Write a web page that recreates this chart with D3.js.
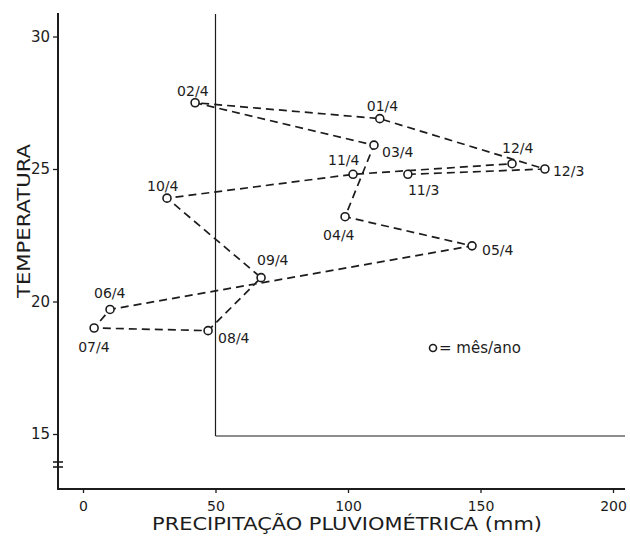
<!DOCTYPE html>
<html>
<head>
<meta charset="utf-8">
<script src="https://cdn.jsdelivr.net/npm/d3@7"></script>
<style>
  body { margin: 0; background: #fff; }
  text { font-family: "DejaVu Sans", sans-serif; fill: #1c1c1c; }
</style>
</head>
<body>
<svg id="chart" width="630" height="538"></svg>
<script>
"use strict";

// mês/ano, na ordem da sequência
var meses = ["11/3", "12/3", "01/4", "02/4", "03/4", "04/4", "05/4",
             "06/4", "07/4", "08/4", "09/4", "10/4", "11/4", "12/4"];
// precipitação (mm)
var precipitacao = [122.6, 174.3, 112, 42.3, 109.8, 98.9, 146.8,
                    10.2, 4.2, 47.2, 67.2, 31.7, 101.9, 161.9];
// temperatura (°C)
var temperatura = [24.8, 25.0, 26.9, 27.5, 25.9, 23.2, 22.1,
                   19.7, 19.0, 18.9, 20.9, 23.9, 24.8, 25.2];

var xTicks = [0, 50, 100, 150, 200];
var yTicks = [15, 20, 25, 30];

// deslocamento dos rótulos (dx, dy) a partir do círculo
var rotuloPos = {
  "11/3": [0, 21], "12/3": [8, 7], "01/4": [-13, -8], "02/4": [-18, -7],
  "03/4": [8, 12], "04/4": [-22, 23], "05/4": [10, 9], "06/4": [-16, -11],
  "07/4": [-16, 24], "08/4": [10, 12], "09/4": [-4, -13], "10/4": [-20, -7],
  "11/4": [-25, -9], "12/4": [-10, -11]
};

var ink = "#1c1c1c";
var svg = d3.select("#chart");

var x = d3.scaleLinear().domain([0, 200]).range([83, 613]);
var y = d3.scaleLinear().domain([15, 30]).range([434, 36.5]);

var axisX = 58;     // posição do eixo vertical
var axisY = 489;    // posição do eixo horizontal

// eixo vertical (com quebra)
svg.append("line")
    .attr("x1", axisX).attr("x2", axisX)
    .attr("y1", 13).attr("y2", axisY)
    .attr("stroke", ink).attr("stroke-width", 2);

// marca de quebra
[462, 467].forEach(function(yy) {
  svg.append("line")
      .attr("x1", axisX - 5).attr("x2", axisX + 5)
      .attr("y1", yy).attr("y2", yy)
      .attr("stroke", ink).attr("stroke-width", 1.6);
});

// eixo horizontal
svg.append("line")
    .attr("x1", axisX - 1).attr("x2", 625)
    .attr("y1", axisY).attr("y2", axisY)
    .attr("stroke", ink).attr("stroke-width", 2.2);

// ticks eixo Y
var gy = svg.append("g")
    .attr("transform", "translate(" + axisX + ",0)")
    .call(d3.axisLeft(y).tickValues(yTicks).tickSize(5).tickPadding(3));
gy.select(".domain").remove();
gy.selectAll("line").attr("stroke", ink).attr("stroke-width", 1.3);
gy.selectAll("text").attr("font-size", 15).style("fill", ink);

// ticks eixo X
var gx = svg.append("g")
    .attr("transform", "translate(0," + axisY + ")")
    .call(d3.axisBottom(x).tickValues(xTicks).tickSize(4).tickPadding(8));
gx.select(".domain").remove();
gx.selectAll("line").attr("stroke", ink).attr("stroke-width", 1.3);
gx.selectAll("text").attr("font-size", 14).style("fill", ink);

// linhas de referência: 50 mm e 15 °C
svg.append("line")
    .attr("x1", x(50)).attr("x2", x(50))
    .attr("y1", 14).attr("y2", y(15) + 2)
    .attr("stroke", ink).attr("stroke-width", 1.2);
svg.append("line")
    .attr("x1", x(50)).attr("x2", 625)
    .attr("y1", y(15) + 2).attr("y2", y(15) + 2)
    .attr("stroke", ink).attr("stroke-width", 1.2);

// títulos dos eixos
svg.append("text")
    .attr("x", 152).attr("y", 530)
    .attr("font-size", 18)
    .attr("textLength", 390)
    .attr("lengthAdjust", "spacingAndGlyphs")
    .text("PRECIPITAÇÃO PLUVIOMÉTRICA (mm)");

svg.append("text")
    .attr("transform", "translate(30,298) rotate(-90)")
    .attr("font-size", 18)
    .attr("textLength", 154)
    .attr("lengthAdjust", "spacingAndGlyphs")
    .text("TEMPERATURA");

// trajetória tracejada
var pontos = meses.map(function(m, i) {
  return { mes: m, p: precipitacao[i], t: temperatura[i] };
});

var linha = d3.line()
    .x(function(d) { return x(d.p); })
    .y(function(d) { return y(d.t); });

svg.append("path")
    .datum(pontos)
    .attr("d", linha)
    .attr("fill", "none")
    .attr("stroke", ink)
    .attr("stroke-width", 1.7)
    .attr("stroke-dasharray", "8,5");

// círculos
svg.selectAll("circle.ponto")
    .data(pontos)
    .enter()
    .append("circle")
      .attr("class", "ponto")
      .attr("cx", function(d) { return x(d.p); })
      .attr("cy", function(d) { return y(d.t); })
      .attr("r", 4)
      .attr("fill", "#fff")
      .attr("stroke", ink)
      .attr("stroke-width", 1.6);

// rótulos
svg.selectAll("text.rotulo")
    .data(pontos)
    .enter()
    .append("text")
      .attr("class", "rotulo")
      .attr("x", function(d) { return x(d.p) + rotuloPos[d.mes][0]; })
      .attr("y", function(d) { return y(d.t) + rotuloPos[d.mes][1]; })
      .attr("font-size", 14)
      .text(function(d) { return d.mes; });

// legenda
svg.append("circle")
    .attr("cx", 433).attr("cy", 348).attr("r", 3.5)
    .attr("fill", "#fff").attr("stroke", ink).attr("stroke-width", 1.6);
svg.append("text")
    .attr("x", 439).attr("y", 353)
    .attr("font-size", 15)
    .text("= mês/ano");
</script>
</body>
</html>
